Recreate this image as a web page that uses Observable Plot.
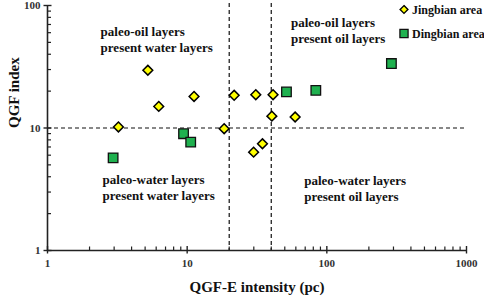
<!DOCTYPE html>
<html><head><meta charset="utf-8">
<script src="https://cdn.jsdelivr.net/npm/d3@7"></script>
<script src="https://cdn.jsdelivr.net/npm/@observablehq/plot@0.6"></script>
<style>body{margin:0;background:#fff}</style>
</head><body><div id="chart"></div>
<script>
// Jingbian area (yellow diamonds)
const jingbianX = [3.22, 5.23, 6.26, 11.2, 18.4, 21.7, 31.0, 41.2, 40.4, 59.3, 34.6, 29.9];
const jingbianY = [10.2, 29.6, 15.0, 18.1, 9.87, 18.5, 18.7, 18.7, 12.5, 12.3, 7.44, 6.35];
// Dingbian area (green squares)
const dingbianX = [2.95, 9.42, 10.6, 51.4, 83.4, 290];
const dingbianY = [5.71, 8.98, 7.67, 19.7, 20.3, 33.6];

const xMajorTicks = [1, 10, 100, 1000];
const yMajorTicks = [1, 10, 100];
const xMinorTicks = [2,3,4,5,6,7,8,9,20,30,40,50,60,70,80,90,200,300,400,500,600,700,800,900];
const yMinorTicks = [2,3,4,5,6,7,8,9,20,30,40,50,60,70,80,90];
const xThresholds = [20, 40];
const yThresholds = [10];
const seriesNames = ["Jingbian area", "Dingbian area"];
const quadrantLabels = [
  "paleo-oil layers\npresent water layers",
  "paleo-oil layers\npresent oil layers",
  "paleo-water layers\npresent water layers",
  "paleo-water layers\npresent oil layers"
];
const xTitle = "QGF-E intensity (pc)";
const yTitle = "QGF index";

const jingbian = jingbianX.map((x, i) => ({x, y: jingbianY[i]}));
const dingbian = dingbianX.map((x, i) => ({x, y: dingbianY[i]}));

const W = 484, H = 297, mL = 47, mR = 18, mT = 5, mB = 47;
const fw = W - mL - mR, fh = H - mT - mB;
const font = "'Liberation Serif', 'Times New Roman', serif";
const yellow = "#ffff00", green = "#1fb14f";
const txt = {fontFamily: font, fontWeight: "bold", fontSize: 13, fill: "#111", textAnchor: "start", lineAnchor: "middle", lineHeight: 1.25};

const chart = Plot.plot({
  width: W, height: H,
  marginLeft: mL, marginRight: mR, marginTop: mT, marginBottom: mB,
  x: {type: "log", domain: [1, 1000]},
  y: {type: "log", domain: [1, 100]},
  style: {fontFamily: font, background: "#fff", overflow: "visible"},
  marks: [
    // dashed threshold lines
    Plot.ruleX(xThresholds, {stroke: "#111", strokeWidth: 1.2, strokeDasharray: "4,3", insetTop: -2}),
    Plot.ruleY(yThresholds, {stroke: "#111", strokeWidth: 1.2, strokeDasharray: "4,3"}),
    // axis lines
    Plot.ruleY([1], {stroke: "#222", strokeWidth: 1.6}),
    Plot.ruleX([1], {stroke: "#222", strokeWidth: 1.6}),
    // ticks
    Plot.ruleX(xMinorTicks, {stroke: "#222", strokeWidth: 1.2, insetTop: fh - 3.5}),
    Plot.ruleX(xMajorTicks, {stroke: "#222", strokeWidth: 1.4, insetTop: fh - 4, insetBottom: -3.5}),
    Plot.ruleY(yMinorTicks, {stroke: "#222", strokeWidth: 1.2, insetRight: fw - 4}),
    Plot.ruleY(yMajorTicks, {stroke: "#222", strokeWidth: 1.4, insetRight: fw - 4.5, insetLeft: -3.5}),
    Plot.axisX({ticks: xMajorTicks, tickSize: 0, tickPadding: 9, tickFormat: d => String(d), fontSize: 11, fontWeight: "bold", fill: "#333", label: null}),
    Plot.axisY({ticks: yMajorTicks, tickSize: 0, tickPadding: 7, tickFormat: d => String(d), fontSize: 11, fontWeight: "bold", fill: "#333", label: null}),
    // axis titles
    Plot.text([xTitle], {text: d => d, frameAnchor: "bottom", dy: 36.5, lineAnchor: "middle", fontFamily: font, fontWeight: "bold", fontSize: 15, fill: "#111"}),
    Plot.text([yTitle], {text: d => d, frameAnchor: "left", dx: -33, rotate: -90, lineAnchor: "middle", fontFamily: font, fontWeight: "bold", fontSize: 15, fill: "#111"}),
    // quadrant annotations
    Plot.text([quadrantLabels[0]], {text: d => d, x: 2.40, y: 53.3, ...txt}),
    Plot.text([quadrantLabels[1]], {text: d => d, x: 55.3, y: 63.7, ...txt}),
    Plot.text([quadrantLabels[2]], {text: d => d, x: 2.48, y: 3.29, ...txt}),
    Plot.text([quadrantLabels[3]], {text: d => d, x: 68.9, y: 3.24, ...txt}),
    // data
    Plot.dot(jingbian, {x: "x", y: "y", symbol: "diamond2", r: 4.4, fill: yellow, stroke: "#000", strokeWidth: 1.5}),
    Plot.dot(dingbian, {x: "x", y: "y", symbol: "square", r: 5.4, fill: green, stroke: "#111", strokeWidth: 1.3}),
    // legend
    Plot.dot([seriesNames[0]], {frameAnchor: "top-right", dx: -62.5, dy: 4, symbol: "diamond2", r: 3.5, fill: yellow, stroke: "#000", strokeWidth: 1.4}),
    Plot.dot([seriesNames[1]], {frameAnchor: "top-right", dx: -62.5, dy: 28, symbol: "square", r: 4.6, fill: green, stroke: "#111", strokeWidth: 1.3}),
    Plot.text([seriesNames[0]], {text: d => d, frameAnchor: "top-right", dx: -54.5, dy: 4, ...txt, fontSize: 12}),
    Plot.text([seriesNames[1]], {text: d => d, frameAnchor: "top-right", dx: -54.5, dy: 28, ...txt, fontSize: 12})
  ]
});
document.getElementById("chart").appendChild(chart);
</script>
</body></html>
